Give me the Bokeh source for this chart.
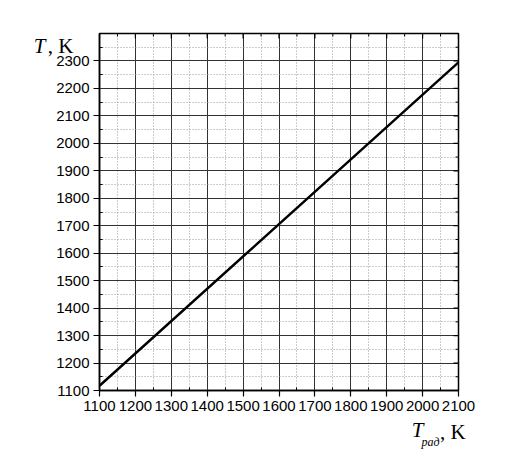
import math
from bokeh.plotting import figure
from bokeh.models import Range1d, FixedTicker, LinearAxis
from bokeh.embed import file_html
from bokeh.resources import INLINE

# data
t_rad = [1100, 1600, 2100]
t_val = [1117, 1706, 2295]
x_ticks = [1100, 1200, 1300, 1400, 1500, 1600, 1700, 1800, 1900, 2000, 2100]
x_minor = [1150, 1250, 1350, 1450, 1550, 1650, 1750, 1850, 1950, 2050]
y_ticks = [1100, 1200, 1300, 1400, 1500, 1600, 1700, 1800, 1900, 2000, 2100, 2200, 2300]
y_minor = [1150, 1250, 1350, 1450, 1550, 1650, 1750, 1850, 1950, 2050, 2150, 2250, 2350]
x_lo, x_hi = 1100, 2100
y_lo, y_hi = 1100, 2400

p = figure(width=504, height=456, output_backend="svg", toolbar_location=None,
           x_range=Range1d(x_lo, x_hi), y_range=Range1d(y_lo, y_hi),
           min_border_left=99, min_border_right=46, min_border_top=33, min_border_bottom=66)
p.background_fill_color = "white"
p.border_fill_color = "white"
p.outline_line_color = "black"
p.outline_line_width = 1.5

xt = FixedTicker(ticks=x_ticks, minor_ticks=x_minor)
yt = FixedTicker(ticks=y_ticks, minor_ticks=y_minor)
p.xaxis.ticker = xt
p.yaxis.ticker = yt
p.xgrid.ticker = xt
p.ygrid.ticker = yt

for g in (p.xgrid, p.ygrid):
    g.grid_line_color = "#333333"
    g.grid_line_width = 1
    g.minor_grid_line_color = "#999999"
    g.minor_grid_line_dash = "1 2"
    g.minor_grid_line_width = 1

for ax in (p.xaxis[0], p.yaxis[0]):
    ax.axis_line_color = "black"
    ax.axis_line_width = 1.5
    ax.major_tick_line_color = "black"
    ax.minor_tick_line_color = "black"
    ax.major_tick_line_width = 1.2
    ax.minor_tick_in = 3
    ax.minor_tick_out = 0
    ax.major_tick_out = 6
    ax.major_tick_in = 0
    ax.major_label_text_font = "Liberation Sans"
    ax.major_label_text_font_size = "15px"
    ax.major_label_text_color = "black"
    ax.major_label_standoff = 4

# inward ticks on the top and right borders (half of each dash is clipped away)
p.scatter(x_ticks, [y_hi] * len(x_ticks), marker="dash", size=10, angle=math.pi / 2,
          line_color="black", line_width=1.2)
p.scatter(x_minor, [y_hi] * len(x_minor), marker="dash", size=6, angle=math.pi / 2,
          line_color="black", line_width=1)
p.scatter([x_hi] * len(y_ticks), y_ticks, marker="dash", size=10,
          line_color="black", line_width=1.2)
p.scatter([x_hi] * len(y_minor), y_minor, marker="dash", size=6,
          line_color="black", line_width=1)

p.line(t_rad, t_val, line_color="black", line_width=2.5)

serif = "Liberation Serif"

def bare_axis(tick, bounds, text, size, style, standoff):
    a = LinearAxis(ticker=FixedTicker(ticks=[tick], minor_ticks=[]), bounds=bounds,
                   major_label_overrides={tick: text})
    a.axis_line_color = None
    a.major_tick_line_color = None
    a.minor_tick_line_color = None
    a.major_tick_in = 0
    a.major_tick_out = 0
    a.minor_tick_in = 0
    a.minor_tick_out = 0
    a.major_label_text_font = serif
    a.major_label_text_font_size = size
    a.major_label_text_font_style = style
    a.major_label_text_color = "black"
    a.major_label_standoff = standoff
    return a

# y-axis title "T, K": ", K" (upright) then an italic "T" just to its left
p.add_layout(bare_axis(2356, (2346, 2366), ", K", "21px", "normal", -20), "left")
p.add_layout(bare_axis(2356, (2346, 2366), "T", "21px", "italic", -1), "left")

# x-axis title "T рад, K"
p.add_layout(bare_axis(1986, (1976, 1996), "T", "21px", "italic", 4), "below")
p.add_layout(bare_axis(2084, (2074, 2094), ", K", "21px", "normal", -25), "below")
p.add_layout(bare_axis(2022, (2012, 2032), "рад", "12px", "italic", -12), "below")

open("out.html", "w").write(file_html(p, INLINE))
